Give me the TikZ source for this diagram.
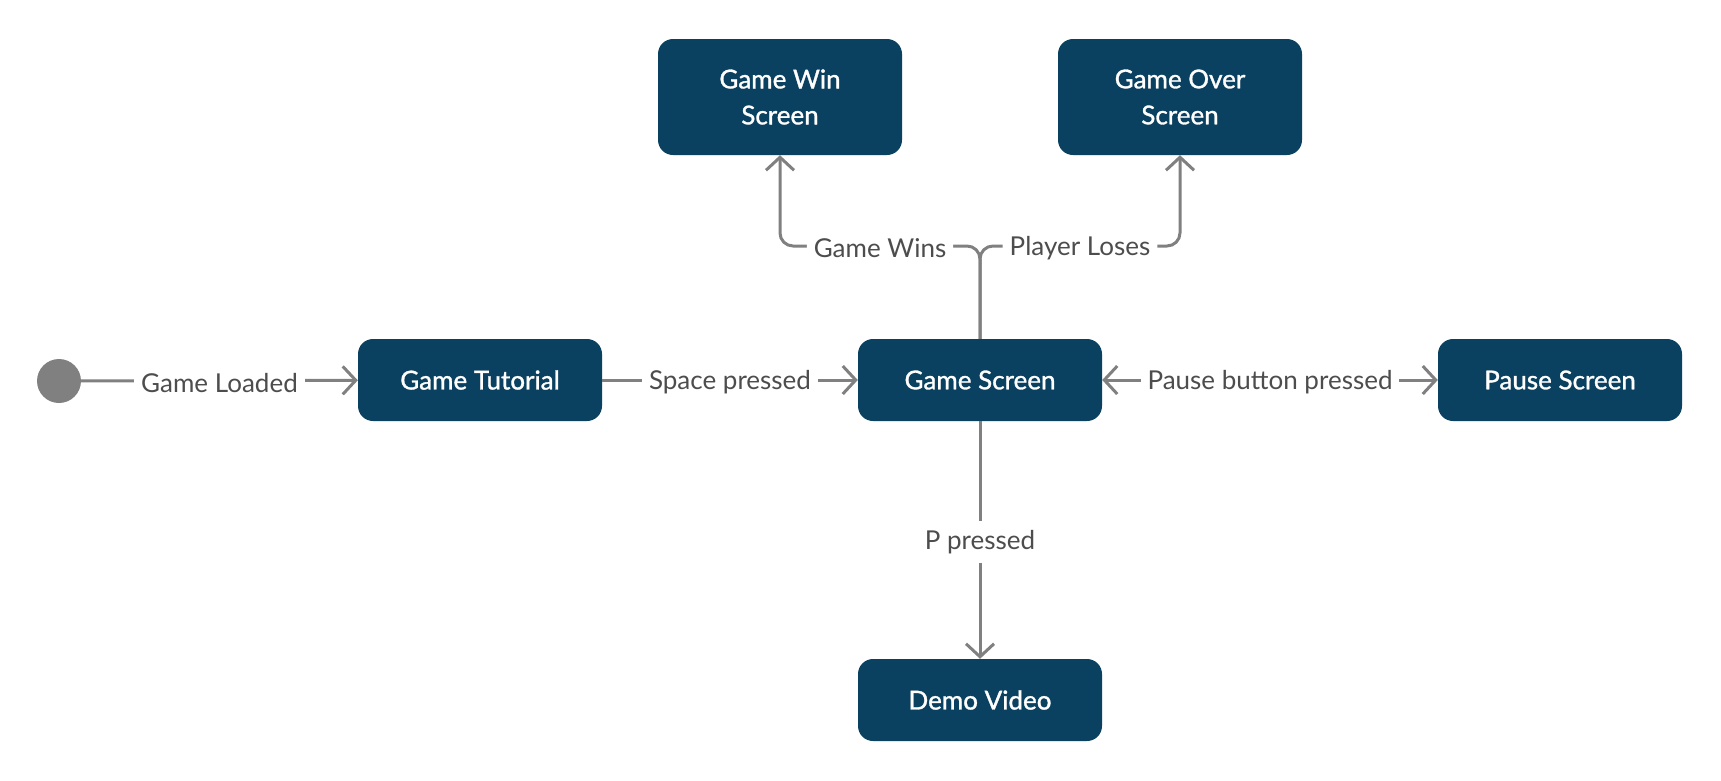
\documentclass[tikz,border=0pt]{standalone}
\usepackage{fontspec}
\setmainfont{Lato}
\newfontfamily\boxfont[FakeBold=1.2]{Lato}
\usetikzlibrary{arrows.meta}
\definecolor{boxblue}{HTML}{0B4160}
\definecolor{linegray}{HTML}{808080}
\definecolor{txtgray}{HTML}{4D4D4D}
\begin{document}
\begin{tikzpicture}[x=1pt,y=-1pt,
  state/.style={fill=boxblue, rounded corners=15pt, minimum width=244pt, minimum height=82pt,
    text=white, font=\boxfont\fontsize{26}{36}\selectfont, align=center, inner sep=0pt},
  tall/.style={minimum height=116pt},
  conn/.style={draw=linegray, line width=3pt, -{Straight Barb[length=13pt,width=28pt]}},
  lbl/.style={fill=white, text=txtgray, font=\fontsize{26}{30}\selectfont, inner sep=7pt, yshift=-2pt}]
\useasboundingbox (0,0) rectangle (1721,780);
\node[circle, fill=linegray, minimum size=44pt, inner sep=0pt] (init) at (59,381) {};
\node[state] (gt) at (480,380) {Game Tutorial};
\node[state] (gs) at (980,380) {Game Screen};
\node[state] (ps) at (1560,380) {Pause Screen};
\node[state] (dv) at (980,700) {Demo Video};
\node[state, tall] (gw) at (780,97) {Game Win\\Screen};
\node[state, tall] (go) at (1180,97) {Game Over\\Screen};
\coordinate (fy) at (0,246);

\draw[conn] (init) -- node[lbl] (l1) {Game Loaded} (gt);
\draw[conn] (gt) -- node[lbl] (l2) {Space pressed} (gs);
\draw[conn, {Straight Barb[length=13pt,width=28pt]}-{Straight Barb[length=13pt,width=28pt]}] (gs) -- node[lbl] (l3) {Pause button pressed} (ps);
\draw[conn] (gs) -- node[lbl, inner sep=9pt] (l4) {P pressed} (dv);
\draw[conn, rounded corners=13pt] (gs.north) |- node[lbl, pos=0.75] (l5) {Game Wins} (gw.south |- fy) -- (gw.south);
\draw[conn, rounded corners=13pt] (gs.north) |- node[lbl, pos=0.75] (l6) {Player Loses} (go.south |- fy) -- (go.south);
\end{tikzpicture}
\end{document}
